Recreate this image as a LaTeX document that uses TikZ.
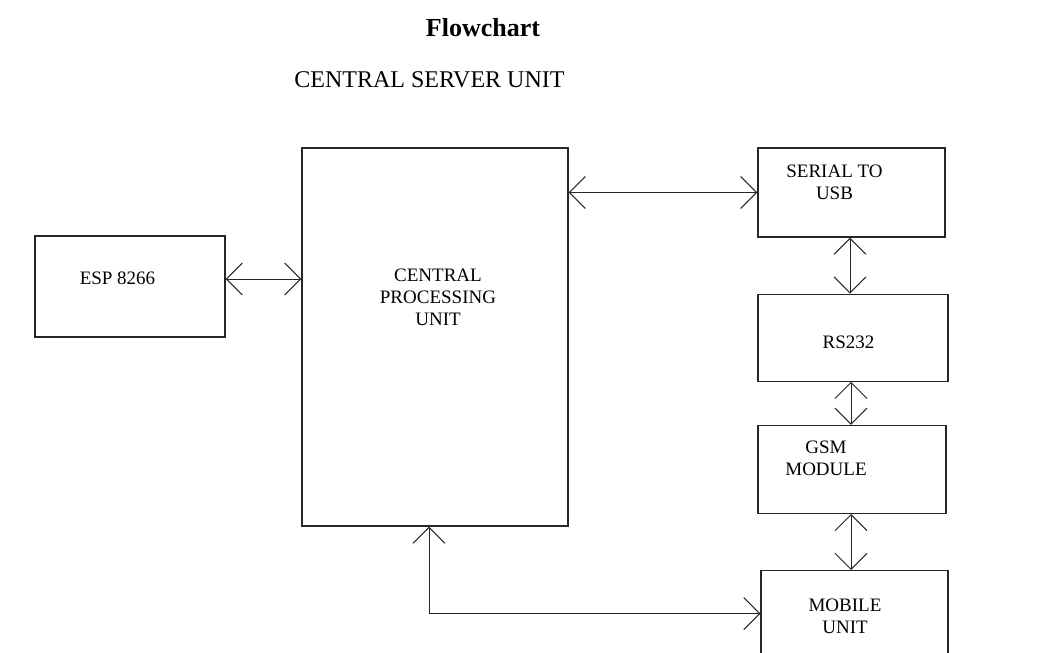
\documentclass[tikz,border=0pt]{standalone}
\usepackage{fontspec}
\setmainfont{Liberation Serif}
\usepackage{tikz}
\usetikzlibrary{arrows.meta, positioning}

\begin{document}
\begin{tikzpicture}[
    x=1pt, y=-1pt,
    >={Straight Barb[length=16pt, width=32pt]},
    block/.style={
        rectangle, draw=black!85, line width=1.2pt, fill=white,
        minimum width=#1, inner sep=0pt
    },
    block/.default={188pt},
    boxtext/.style={
        align=center, inner sep=0pt,
        font=\fontsize{19}{22}\selectfont
    },
    link/.style={
        <->, line width=1pt, black!85
    }
]
\useasboundingbox (0,0) rectangle (1050,653);

% ── Titles ──
\node[font=\fontsize{26}{30}\selectfont\bfseries] (title) at (483,28) {Flowchart};
\node[font=\fontsize{24}{28}\selectfont] (server) at (429.5,80) {CENTRAL SERVER UNIT};

% ── Left side ──
\node[block=190pt, minimum height=101pt] (esp) at (130,286.5) {};
\node[boxtext, xshift=-12.5pt, yshift=8.5pt] (esptext) at (esp) {ESP 8266};

% ── Central processing unit ──
\node[block=266pt, minimum height=378pt] (cpu) at (435,337) {};
\node[boxtext, xshift=3pt, yshift=40pt] (cputext) at (cpu) {CENTRAL\\PROCESSING\\UNIT};

% ── Right column ──
\node[block=187pt, minimum height=89pt] (serial) at (851.5,192.5) {};
\node[boxtext, xshift=-17pt, yshift=10.5pt] (serialtext) at (serial) {SERIAL TO\\USB};

\node[block=190pt, minimum height=87pt, below=56pt of serial, xshift=1.5pt] (rs232) {};
\node[boxtext, xshift=-4.5pt, yshift=-4.5pt] (rstext) at (rs232) {RS232};

\node[block, minimum height=88pt, below=43pt of rs232, xshift=-1pt] (gsm) {};
\node[boxtext, xshift=-26pt, yshift=11pt] (gsmtext) at (gsm) {GSM\\MODULE};

\node[block=187pt, minimum height=86pt, below=56pt of gsm, xshift=2.5pt] (mobile) {};
\node[boxtext, xshift=-9.5pt, yshift=-3pt] (mobiletext) at (mobile) {MOBILE\\UNIT};

% ── Arrows ──
\draw[link] ([yshift=7.5pt]esp.east) -- ([yshift=7.5pt]esp.east -| cpu.west);
\draw[link] (serial.west -| cpu.east) -- (serial.west);
\draw[link] ([xshift=-1.5pt]serial.south) -- ([xshift=-1.5pt]serial.south |- rs232.north);
\draw[link] ([xshift=-2pt]rs232.south) -- ([xshift=-2pt]rs232.south |- gsm.north);
\draw[link] ([xshift=-1pt]gsm.south) -- ([xshift=-1pt]gsm.south |- mobile.north);

% CPU bottom -> Mobile unit
\coordinate (cpuport) at ([xshift=-6pt]cpu.south);
\draw[link] (cpuport) |- (mobile.west);

\end{tikzpicture}
\end{document}
